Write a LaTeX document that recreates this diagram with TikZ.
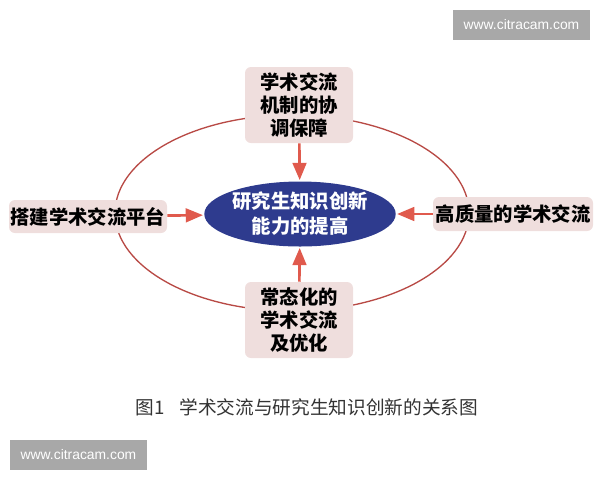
\documentclass[tikz,border=0pt]{standalone}
\usepackage{fontspec}
\newfontfamily\cjk{Noto Sans CJK SC}
\setsansfont{Liberation Sans}
\usepackage{tikz}
\usetikzlibrary{positioning}
\usetikzlibrary{arrows}
\usetikzlibrary{shapes.geometric}
\definecolor{boxpink}{HTML}{EFDEDD}
\definecolor{hubblue}{HTML}{2E3B8E}
\definecolor{ringred}{HTML}{B84A45}
\definecolor{arrowred}{HTML}{E05A4D}
\definecolor{markgray}{HTML}{A8A8A8}

\begin{document}
\begin{tikzpicture}[x=0.75pt,y=-0.75pt,>=triangle 45,
	box node/.style={rectangle,rounded corners=4.5pt,fill=boxpink,inner sep=0pt,
		align=center,font=\cjk\bfseries\fontsize{14.5}{17.25}\selectfont},
	hub node/.style={ellipse,fill=hubblue,text=white,inner sep=0pt,align=center,
		minimum width=135pt,minimum height=48.75pt,
		font=\cjk\bfseries\fontsize{14.5}{18.75}\selectfont},
	mark node/.style={rectangle,fill=markgray,text=white,inner sep=0pt,
		minimum width=102.75pt,minimum height=22.5pt,
		font=\sffamily\fontsize{10.4}{12}\selectfont}]
	
	\useasboundingbox (0,0) rectangle (600,480);
	
	% the thin ring behind the boxes
	\draw[ringred,line width=1pt] (292,213) ellipse [x radius=177, y radius=98];
	
	\node[hub node] (H) at (300,214) {研究生知识创新\\能力的提高};
	\node[box node,minimum width=81pt,minimum height=57pt]  (T) at (299,105) {学术交流\\机制的协\\调保障};
	\node[box node,minimum width=81pt,minimum height=57pt]  (B) at (299,320) {常态化的\\学术交流\\及优化};
	\node[box node,minimum width=118.5pt,minimum height=24.75pt] (L) at (88,216.5) {搭建学术交流平台};
	\node[box node,minimum width=120pt,minimum height=25.5pt]    (R) at (513,214) {高质量的学术交流};
	
	\path[->,arrowred,line width=2pt,shorten >=1pt]
	(T) edge (H)
	(B) edge (H)
	(L) edge (H)
	(R) edge (H);
	
	\node[text=black!80,font=\cjk\fontsize{14}{16}\selectfont] (C) at (307,407)
	{图1\hspace{0.8em}学术交流与研究生知识创新的关系图};
	
	\node[mark node] (W1) at (521.5,25) {www.citracam.com};
	\node[mark node] (W2) at (78.5,455) {www.citracam.com};
\end{tikzpicture}
\end{document}
